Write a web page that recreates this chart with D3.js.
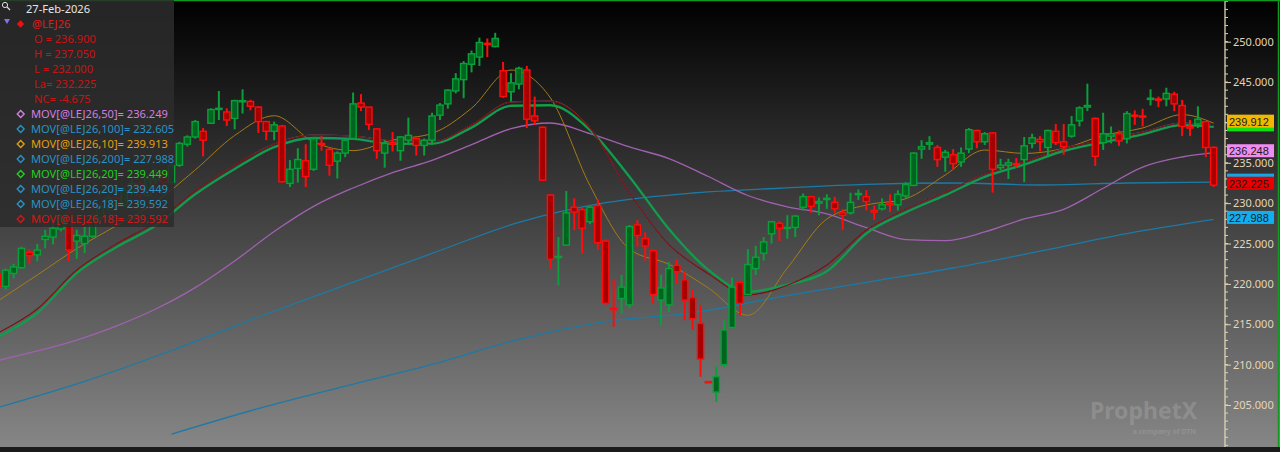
<!DOCTYPE html>
<html>
<head>
<meta charset="utf-8">
<script src="https://cdn.jsdelivr.net/npm/d3@7"></script>
<style>
html, body { margin: 0; padding: 0; background: #000; overflow: hidden; }
svg { display: block; font-family: "Noto Sans", "Open Sans", sans-serif; }
</style>
</head>
<body>
<div id="chart"></div>
<script>
// daily bars of @LEJ26, oldest first (index 0 is cut off at the left edge)
const opens = [
  221.2, 219.7, 221.3, 222.0, 223.9, 223.6, 225.5, 225.8, 226.8, 228.8, 225.3, 225.0, 225.9,
  228.2, 229.4, 230.6, 229.8, 231.5, 232.4, 231.0, 232.9, 233.8, 232.6,
  234.7, 237.3, 238.2, 238.9, 239.9, 241.7, 241.3, 240.5, 242.6, 242.6, 241.9, 240.1, 238.9, 239.55, 232.45, 234.3,
  235.25, 234.2, 237.4, 236.65, 235.2, 236.2, 238.0, 242.4, 241.9, 239.2, 236.2, 237.5, 236.5, 237.8, 238.0, 237.15,
  237.8, 240.9, 242.3, 243.9, 245.3, 247.2, 248.1, 249.8, 249.4, 246.4, 243.8, 244.75, 246.5, 240.8, 239.4, 231.0,
  223.3, 224.8, 229.5, 229.2, 227.7, 229.7,
  225.3, 217.0, 218.2, 217.4, 227.3, 225.6, 224.1, 218.0, 217.4, 222.3, 220.5, 218.3, 215.1, 207.9, 206.6, 210.0,
  214.6, 220.2, 218.7, 221.9, 223.8, 226.2, 227.5, 226.9, 227.0, 229.5, 230.8, 230.0, 230.5, 230.1, 228.8, 228.8,
  231.1, 230.8, 229.1, 229.3, 230.0, 229.8,
  230.9, 232.2, 236.7, 237.3, 236.9, 235.7, 236.0, 235.1, 236.7, 239.0, 237.6, 238.7, 234.4, 234.7, 234.9, 235.4,
  237.4, 237.9, 236.9, 238.9, 237.6, 238.3, 240.2, 241.9, 240.5, 237.5, 238.3, 238.6, 238.0, 240.9, 240.8, 242.85,
  242.9, 242.9, 243.5, 242.1, 239.5, 239.8, 240.1, 236.9
];
const highs = [
  221.4, 221.9, 222.5, 224.6, 224.3, 224.95, 226.7, 227.7, 228.6, 229.3, 226.7, 227.1, 228.7,
  229.9, 231.0, 231.2, 232.0, 232.9, 232.8, 233.4, 234.3, 234.0, 235.0,
  237.6, 238.4, 240.3, 239.3, 241.75, 243.9, 241.75, 242.8, 244.1, 242.8, 242.0, 240.2, 240.1, 239.7, 235.35, 236.8,
  237.3, 238.2, 238.3, 236.9, 236.4, 238.0, 243.7, 243.5, 241.9, 239.25, 237.8, 238.8, 238.3, 240.6, 238.1, 238.0,
  241.2, 242.4, 244.1, 246.1, 247.6, 248.9, 250.5, 250.4, 251.1, 247.5, 246.1, 246.9, 247.0, 243.2, 239.5, 231.1,
  225.8, 231.5, 230.6, 229.5, 229.6, 230.45,
  225.5, 220.5, 221.1, 227.3, 227.9, 226.4, 224.2, 221.1, 222.7, 223.1, 221.6, 219.3, 217.4, 207.95, 209.8, 215.5,
  220.8, 220.4, 224.3, 224.7, 225.8, 227.8, 227.8, 228.5, 228.5, 231.2, 230.9, 230.7, 231.1, 230.8, 229.3, 231.3,
  231.7, 231.6, 229.7, 230.6, 231.1, 231.6,
  232.6, 236.3, 237.8, 238.3, 237.2, 236.6, 236.7, 236.9, 239.3, 239.1, 238.8, 238.8, 235.5, 235.5, 235.6, 238.2,
  238.6, 238.3, 239.1, 239.8, 239.8, 240.8, 242.0, 244.8, 240.6, 241.2, 239.5, 239.0, 241.4, 241.5, 241.7, 244.1,
  243.2, 244.3, 243.8, 242.8, 240.3, 242.0, 240.2, 237.05
];
const lows = [
  219.4, 219.3, 220.7, 221.9, 222.5, 222.8, 224.4, 224.9, 226.5, 222.8, 223.1, 223.8, 225.7,
  227.8, 229.0, 229.2, 229.5, 231.0, 230.5, 230.8, 232.4, 232.0, 232.3,
  234.5, 237.0, 238.0, 235.8, 239.8, 240.3, 239.55, 239.15, 241.1, 241.5, 238.7, 237.8, 237.8, 232.55, 232.0, 232.55,
  232.0, 234.0, 236.5, 233.4, 233.05, 235.7, 237.9, 241.4, 239.05, 235.5, 234.4, 236.4, 235.25, 237.2, 235.9, 235.9,
  237.2, 240.3, 241.7, 243.6, 243.0, 246.2, 247.0, 248.1, 249.3, 243.05, 242.6, 244.1, 239.3, 239.7, 232.8, 221.9,
  219.8, 224.7, 226.65, 223.8, 227.4, 224.2,
  217.4, 214.7, 216.3, 217.0, 224.6, 222.9, 217.6, 214.8, 216.5, 220.0, 215.5, 214.3, 208.5, 207.8, 205.4, 209.7,
  214.5, 216.1, 218.6, 221.1, 222.9, 225.0, 225.3, 225.6, 225.8, 229.1, 228.8, 228.5, 229.3, 228.8, 226.65, 228.6,
  230.4, 229.1, 227.9, 229.1, 228.9, 229.1,
  230.6, 232.1, 235.5, 236.6, 234.5, 233.9, 234.1, 234.5, 236.2, 236.8, 237.2, 231.3, 234.1, 233.0, 234.4, 232.6,
  236.8, 236.4, 235.7, 237.2, 236.0, 238.1, 239.5, 241.4, 234.6, 236.6, 237.4, 237.1, 237.4, 239.7, 239.5, 242.1,
  241.9, 242.0, 241.4, 238.3, 238.3, 239.3, 235.7, 232.0
];
const closes = [
  219.7, 221.7, 222.1, 224.4, 223.5, 224.2, 225.9, 226.9, 228.2, 224.2, 226.0, 225.9, 228.3,
  229.5, 230.6, 229.8, 231.6, 232.4, 231.0, 233.0, 233.8, 232.6, 234.6,
  237.4, 238.2, 240.1, 237.8, 241.6, 241.75, 240.3, 242.7, 242.7, 242.0, 240.1, 238.9, 239.7, 232.65, 234.2, 235.4,
  233.3, 238.0, 237.3, 234.7, 236.2, 237.8, 242.3, 241.9, 239.75, 236.5, 237.4, 237.3, 238.2, 238.4, 237.15, 237.8,
  240.8, 242.15, 244.0, 245.4, 247.3, 248.5, 249.9, 249.7, 250.4, 243.2, 244.9, 246.7, 240.4, 240.2, 232.85, 223.05,
  223.4, 228.8, 228.9, 226.9, 229.5, 225.1,
  217.6, 216.8, 219.6, 227.1, 226.0, 224.7, 218.7, 219.5, 221.9, 221.5, 218.0, 215.7, 210.7, 207.85, 208.5, 214.3,
  219.6, 217.6, 222.4, 223.3, 225.2, 227.7, 226.9, 227.0, 228.4, 230.8, 229.6, 230.2, 230.6, 229.3, 228.5, 230.1,
  231.2, 230.2, 228.9, 229.8, 229.8, 231.1,
  232.3, 236.2, 237.0, 237.5, 235.4, 236.3, 234.9, 236.2, 239.1, 237.6, 238.6, 234.2, 234.7, 235.0, 234.8, 237.1,
  238.1, 237.6, 239.0, 237.5, 237.0, 239.7, 241.8, 242.1, 235.8, 238.6, 238.6, 237.7, 241.1, 240.8, 240.7, 243.0,
  242.8, 243.6, 242.3, 239.5, 239.3, 240.4, 236.9, 232.225
];

// moving averages at these bar numbers
const fastIdx = [0, 5, 10, 15, 20, 25, 30, 35, 40, 45, 50, 55, 60, 65, 70, 75,
  80, 85, 90, 95, 100, 105, 110, 115, 120, 125, 130, 135, 140, 145, 150, 154];
const ma10 = [217.88, 221.10, 224.38, 227.21, 230.14, 234.11, 238.38, 240.83, 237.58, 236.51, 237.82, 238.64,
  241.76, 246.49, 243.03, 232.18, 224.32, 222.43, 219.49, 216.11, 221.97, 228.04, 229.77, 230.55,
  233.49, 236.58, 236.16, 236.78, 238.39, 239.31, 240.97, 239.91];
const ma18 = [213.92, 216.89, 221.72, 224.94, 227.67, 231.51, 234.66, 237.33, 238.44, 238.32, 237.70, 237.58,
  239.68, 242.53, 242.65, 239.31, 231.26, 224.87, 221.26, 218.62, 219.84, 222.34, 226.68, 229.28,
  231.38, 233.61, 235.10, 236.77, 237.82, 238.81, 239.93, 239.59];
const ma20 = [213.42, 216.39, 221.35, 224.54, 227.22, 231.10, 234.23, 236.93, 238.07, 237.96, 237.34, 237.37,
  239.36, 242.06, 242.12, 239.06, 233.28, 226.80, 221.73, 219.03, 219.92, 221.56, 226.25, 228.86,
  230.99, 233.25, 234.78, 236.46, 237.53, 238.53, 239.67, 239.45];
const ma50 = [210.51, 211.69, 213.05, 214.78, 216.89, 219.54, 222.84, 226.49, 229.61, 231.88, 233.79, 235.31,
  237.25, 239.22, 239.93, 238.62, 236.96, 235.53, 233.30, 230.95, 229.55, 228.68, 226.96, 225.49,
  225.36, 226.43, 228.04, 229.24, 231.85, 234.47, 235.72, 236.25];
const slowIdx = [0, 11, 22, 33, 44, 55, 66, 77, 88, 99, 110, 121, 132, 143, 154];
const ma100 = [204.69, 207.93, 211.75, 215.90, 219.86, 223.78, 227.62, 230.06, 231.26, 231.85, 232.34, 232.50,
  232.25, 232.50, 232.605];
const ma200 = [null, null, 201.40, 204.56, 207.33, 210.03, 213.14, 215.34, 216.42, 218.38, 220.19, 221.97,
  224.05, 226.23, 227.99];

// price scale labels (240 sits under the MA10 tag, so it is drawn as a tick only)
const priceTicks = [205, 210, 215, 220, 225, 230, 235, 240, 245, 250];
const coveredTicks = [240];

// legend texts
const legendDate = "27-Feb-2026";
const symbol = "@LEJ26";
const quoteLines = ["O = 236.900", "H = 237.050", "L = 232.000", "La= 232.225", "NC= -4.675"];
const studyNames = ["MOV[@LEJ26,50]= 236.249", "MOV[@LEJ26,100]= 232.605", "MOV[@LEJ26,10]= 239.913",
  "MOV[@LEJ26,200]= 227.988", "MOV[@LEJ26,20]= 239.449", "MOV[@LEJ26,20]= 239.449",
  "MOV[@LEJ26,18]= 239.592", "MOV[@LEJ26,18]= 239.592"];
const studyColors = ["#d27fe0", "#2a92c4", "#e0a010", "#2a92c4", "#22d022", "#2a92c4", "#2a92c4", "#d01818"];

// last values shown on the price scale (the ones drawn under another tag show no text)
const tagValues = [239.449, 239.912, 236.248, 232.605, 232.225, 227.988];
const tagColors = ["#12e012", "#f2b800", "#f08cf0", "#10a8e8", "#e80000", "#10b0f0"];
const tagHidden = [true, false, false, true, false, false];

const W = 1280, H = 452;
const plotRight = 1225, plotBottom = 447;
const legendFont = 11.1;

const svg = d3.select("#chart").append("svg")
    .attr("width", W)
    .attr("height", H);

const defs = svg.append("defs");
const bg = defs.append("linearGradient").attr("id", "bg")
    .attr("x1", 0).attr("y1", 0).attr("x2", 0).attr("y2", 1);
bg.append("stop").attr("offset", "0%").attr("stop-color", "#000");
bg.append("stop").attr("offset", "100%").attr("stop-color", "#868686");
defs.append("clipPath").attr("id", "plotclip")
    .append("rect").attr("width", plotRight).attr("height", plotBottom);

svg.append("rect").attr("width", W).attr("height", plotBottom).attr("fill", "url(#bg)");
svg.append("rect").attr("y", plotBottom).attr("width", W).attr("height", H - plotBottom).attr("fill", "#1b1b1b");

const x = d3.scaleLinear().domain([1, 154]).range([5.7, 1213.7]);
const y = d3.scaleLinear().domain([205, 250]).range([405, 41.7]);

const plot = svg.append("g").attr("clip-path", "url(#plotclip)");

// watermark
const wm = svg.append("g").attr("opacity", 0.32);
wm.append("text")
    .attr("x", 1090).attr("y", 419)
    .attr("font-size", 23).attr("font-weight", "bold")
    .attr("fill", "#b4b4b4")
    .text("ProphetX");
wm.append("text")
    .attr("x", 1196).attr("y", 434)
    .attr("text-anchor", "end")
    .attr("font-size", 7).attr("font-weight", "bold")
    .attr("fill", "#b4b4b4")
    .text("a company of DTN");

// moving average lines
const line = d3.line()
    .defined(d => d.v != null)
    .x(d => x(d.i))
    .y(d => y(d.v))
    .curve(d3.curveMonotoneX);

function series(idx, vals) { return idx.map((i, k) => ({i: i, v: vals[k]})); }

const maLines = [
    {data: series(slowIdx, ma200), color: "#1c7aa6", width: 1.3},
    {data: series(slowIdx, ma100), color: "#1c7aa6", width: 1.3},
    {data: series(fastIdx, ma50), color: "#a061b0", width: 1.3},
    {data: series(fastIdx, ma10), color: "#a67c14", width: 1},
    {data: series(fastIdx, ma20), color: "#0f9c3e", width: 2.4},
    {data: series(fastIdx, ma20), color: "#2a92c4", width: 0.8, opacity: 0.4},
    {data: series(fastIdx, ma18), color: "#2a92c4", width: 1},
    {data: series(fastIdx, ma18), color: "#860a0a", width: 1.2}
];

plot.selectAll(".ma").data(maLines).enter()
    .append("path")
    .attr("class", "ma")
    .attr("fill", "none")
    .attr("stroke", d => d.color)
    .attr("stroke-width", d => d.width)
    .attr("stroke-opacity", d => d.opacity || 1)
    .attr("d", d => line(d.data));

// candles
const bars = opens.map((o, i) => ({i: i, o: o, h: highs[i], l: lows[i], c: closes[i], up: closes[i] >= o}));
const edge = d => d.up ? "#0b9f3b" : "#ff0c0c";
const body = d => d.up ? "#00661f" : "#a60000";
const bw = 6.2;

const candles = plot.selectAll(".candle").data(bars).enter()
    .append("g").attr("class", "candle");

candles.append("line")
    .attr("x1", d => x(d.i)).attr("x2", d => x(d.i))
    .attr("y1", d => y(d.h)).attr("y2", d => y(d.l))
    .attr("stroke", edge)
    .attr("stroke-width", 2);

candles.append("rect")
    .attr("x", d => x(d.i) - bw / 2)
    .attr("width", bw)
    .attr("y", d => y(Math.max(d.o, d.c)))
    .attr("height", d => Math.max(1.2, y(Math.min(d.o, d.c)) - y(Math.max(d.o, d.c))))
    .attr("fill", body)
    .attr("stroke", edge)
    .attr("stroke-width", 1.4);

// price scale
const axisG = svg.append("g").attr("transform", "translate(" + plotRight + ",0)");
axisG.append("line")
    .attr("y1", 0).attr("y2", plotBottom)
    .attr("stroke", "#ddd3b2").attr("stroke-width", 1.3);

const minor = d3.range(200, 256);
axisG.selectAll(".minor").data(minor).enter()
    .append("line")
    .attr("x1", 0).attr("x2", 3)
    .attr("y1", d => y(d)).attr("y2", d => y(d))
    .attr("stroke", "#ddd3b2");

const ax = d3.axisRight(y)
    .tickValues(priceTicks)
    .tickFormat(d3.format(".3f"))
    .tickSize(6)
    .tickPadding(2);
axisG.call(ax);
axisG.select(".domain").remove();
axisG.selectAll(".tick line").attr("stroke", "#ddd3b2");
axisG.selectAll(".tick text")
    .attr("fill", "#e2d6b8")
    .attr("font-size", 11)
    .attr("font-family", "Noto Sans, sans-serif");
axisG.selectAll(".tick").filter(d => coveredTicks.includes(d)).select("text").remove();

const tags = axisG.selectAll(".tag").data(tagValues).enter()
    .append("g").attr("class", "tag")
    .attr("transform", d => "translate(2," + (y(d) - 2) + ")");
tags.append("rect")
    .attr("x", 0).attr("y", -6.5)
    .attr("width", 47).attr("height", 13)
    .attr("fill", (d, i) => tagColors[i]);
tags.filter((d, i) => !tagHidden[i]).append("text")
    .attr("x", 2).attr("y", 4.5)
    .attr("font-size", 11)
    .attr("fill", "#1a1a1a")
    .text(d => d3.format(".3f")(d));

// frame
svg.append("line").attr("x1", 0).attr("x2", W).attr("y1", 0.5).attr("y2", 0.5)
    .attr("stroke", "#109a20").attr("stroke-width", 1.5);
svg.append("line").attr("x1", W - 1.5).attr("x2", W - 1.5).attr("y1", 0).attr("y2", plotBottom)
    .attr("stroke", "#109a20").attr("stroke-width", 1.5);

// legend
const lg = svg.append("g");
lg.append("rect")
    .attr("width", 174).attr("height", 227)
    .attr("fill", "rgb(44,44,44)").attr("fill-opacity", 0.86);

lg.append("circle").attr("cx", 5).attr("cy", 5).attr("r", 2.6)
    .attr("fill", "none").attr("stroke", "#dddddd").attr("stroke-width", 1);
lg.append("line").attr("x1", 7).attr("y1", 7).attr("x2", 10).attr("y2", 10)
    .attr("stroke", "#dddddd").attr("stroke-width", 1.3);

lg.append("text").attr("x", 26).attr("y", 13)
    .attr("font-size", legendFont).attr("fill", "#e6e6e6")
    .text(legendDate);

lg.append("path").attr("d", "M4,19 L10,19 L7,24 Z").attr("fill", "#7d74f0");
lg.append("path").attr("d", d3.symbol(d3.symbolDiamond2, 34)())
    .attr("transform", "translate(20.5,24)")
    .attr("fill", "#f01010");
lg.append("text").attr("x", 32).attr("y", 28)
    .attr("font-size", legendFont).attr("fill", "#e01c1c")
    .text(symbol);

lg.selectAll(".q").data(quoteLines).enter()
    .append("text").attr("class", "q")
    .attr("x", 34).attr("y", (d, i) => 43 + i * 15)
    .attr("font-size", legendFont).attr("fill", "#c81414")
    .text(d => d);

const st = lg.selectAll(".st").data(studyNames).enter()
    .append("g").attr("class", "st")
    .attr("transform", (d, i) => "translate(0," + (118 + i * 15) + ")");
st.append("path")
    .attr("d", d3.symbol(d3.symbolDiamond2, 30)())
    .attr("transform", "translate(20.7,-4)")
    .attr("fill", "none")
    .attr("stroke", (d, i) => studyColors[i])
    .attr("stroke-width", 1.4);
st.append("text")
    .attr("x", 31).attr("y", 0)
    .attr("font-size", legendFont)
    .attr("fill", (d, i) => studyColors[i])
    .text(d => d);
</script>
</body>
</html>
